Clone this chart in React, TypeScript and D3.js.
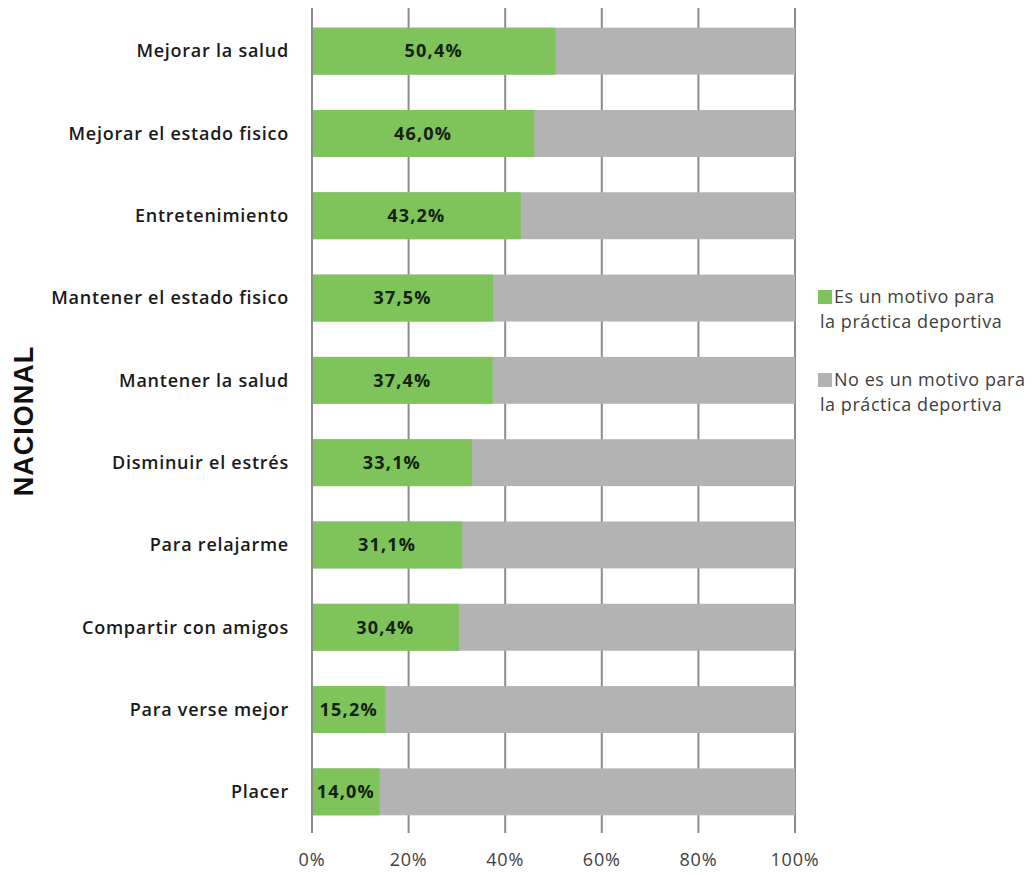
import React from "react";
import * as d3 from "d3";

const categories = [
  "Mejorar la salud",
  "Mejorar el estado fisico",
  "Entretenimiento",
  "Mantener el estado fisico",
  "Mantener la salud",
  "Disminuir el estrés",
  "Para relajarme",
  "Compartir con amigos",
  "Para verse mejor",
  "Placer",
];
const esMotivo = [50.4, 46.0, 43.2, 37.5, 37.4, 33.1, 31.1, 30.4, 15.2, 14.0];
const ticks = [0, 20, 40, 60, 80, 100];
const legendLabels = [
  ["Es un motivo para", "la práctica deportiva"],
  ["No es un motivo para", "la práctica deportiva"],
];

const GREEN = "#7ec45a";
const GRAY = "#b3b3b3";
const FONT = "'Open Sans', Lato, sans-serif";

export default function App() {
  const W = 1035, H = 875;
  const x = d3.scaleLinear().domain([0, 100]).range([312, 795]);
  const y = d3.scaleBand<string>().domain(categories).range([10, 833]).paddingInner(0.43).paddingOuter(0.215);
  const fmt = (v: number) => v.toFixed(1).replace(".", ",") + "%";
  return (
    <svg width={W} height={H} style={{ position: "absolute", left: 0, top: 0, background: "#fff" }}>
      {ticks.map((t) => (
        <line key={"g" + t} x1={x(t)} x2={x(t)} y1={8} y2={833} stroke="#8c8c8c" strokeWidth={2} />
      ))}
      {categories.map((c, i) => {
        const v = esMotivo[i];
        const y0 = y(c)!;
        const bh = y.bandwidth();
        return (
          <g key={c}>
            <rect x={x(0)} y={y0} width={x(100) - x(0)} height={bh} fill={GRAY} />
            <rect x={x(0)} y={y0} width={x(v) - x(0)} height={bh} fill={GREEN} />
            <text x={(x(0) + x(v)) / 2} y={y0 + bh / 2} dy="0.35em" textAnchor="middle"
              fontFamily={FONT} fontWeight={700} fontSize={18} letterSpacing={1.2} fill="#142010">{fmt(v)}</text>
            <text x={289} y={y0 + bh / 2} dy="0.35em" textAnchor="end"
              fontFamily={FONT} fontWeight={600} fontSize={18} letterSpacing={0.75} fill="#1a1a1a">{c}</text>
          </g>
        );
      })}
      <line x1={x(0)} x2={x(0)} y1={8} y2={833} stroke="#8c8c8c" strokeWidth={2} />
      {ticks.map((t) => (
        <text key={"t" + t} x={x(t)} y={860} dy="0.35em" textAnchor="middle"
          fontFamily={FONT} fontSize={18} letterSpacing={0.8} fill="#404040">{t + "%"}</text>
      ))}
      <text transform="translate(24,421) rotate(-90)" textAnchor="middle" dy="0.35em"
        fontFamily="'Liberation Sans', Arial, sans-serif" fontWeight={700} fontSize={27} letterSpacing={1} fill="#111">NACIONAL</text>
      {legendLabels.map((lines, i) => (
        <g key={"l" + i} transform={`translate(818,${290 + i * 83})`}>
          <rect x={0} y={0} width={14} height={14} fill={i === 0 ? GREEN : GRAY} />
          <text x={16} y={7} dy="0.35em" fontFamily={FONT} fontSize={18} letterSpacing={0.55} fill="#404040">{lines[0]}</text>
          <text x={2} y={32} dy="0.35em" fontFamily={FONT} fontSize={18} letterSpacing={0.55} fill="#404040">{lines[1]}</text>
        </g>
      ))}
    </svg>
  );
}
